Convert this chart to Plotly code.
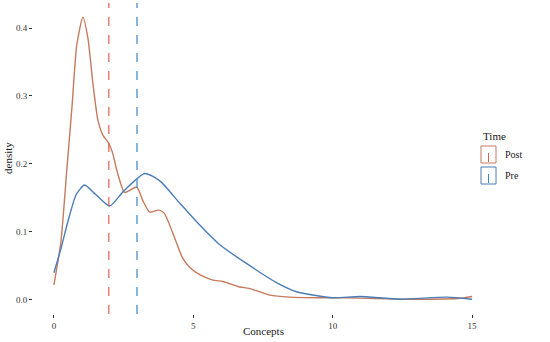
import plotly.graph_objects as go

# Density estimates
post_x = [0, 0.25, 0.47, 0.65, 0.82, 1.04, 1.22, 1.4, 1.58, 1.76, 1.94, 2.1, 2.26, 2.54, 2.97, 3.2, 3.44, 3.75, 3.95, 4.34, 4.6, 4.87, 5.23, 5.7, 6.06, 6.67, 7.0, 7.74, 8.46, 9.5, 10.5, 11.5, 12.5, 13.5, 14.5, 15]
post_y = [0.022, 0.085, 0.195, 0.285, 0.375, 0.416, 0.385, 0.318, 0.264, 0.242, 0.232, 0.217, 0.19, 0.158, 0.166, 0.145, 0.129, 0.132, 0.128, 0.09, 0.063, 0.048, 0.037, 0.029, 0.027, 0.019, 0.017, 0.007, 0.004, 0.003, 0.003, 0.002, 0.001, 0.001, 0.002, 0.005]

pre_x = [0, 0.25, 0.5, 0.8, 1.1, 1.5, 2.0, 2.5, 3.26, 3.8, 4.5, 5.23, 5.95, 7.0, 8.0, 8.7, 10.0, 10.97, 12.4, 14.1, 15]
pre_y = [0.04, 0.075, 0.115, 0.155, 0.169, 0.155, 0.138, 0.16, 0.186, 0.175, 0.143, 0.11, 0.081, 0.051, 0.025, 0.012, 0.003, 0.005, 0.001, 0.004, 0.001]

means = {"Post": 1.97, "Pre": 2.98}
series_names = ["Post", "Pre"]
line_colors = {"Post": "#C57A5E", "Pre": "#4A7DB8"}
vline_colors = {"Post": "#E0604F", "Pre": "#3A88C6"}

x_ticks = [0, 5, 10, 15]
y_ticks = [0.0, 0.1, 0.2, 0.3, 0.4]
y_tick_labels = ["0.0", "0.1", "0.2", "0.3", "0.4"]

FONT = "Liberation Serif"

L, R, T, B = 33, 493, 3, 314
W, H = 550, 342


def px(x):
    return (x - L) / (R - L)


def py(y):
    return (B - y) / (B - T)


fig = go.Figure()
fig.add_trace(go.Scatter(x=post_x, y=post_y, mode="lines", name="Post",
                         line=dict(color=line_colors["Post"], width=1.4, shape="spline", smoothing=0.6),
                         showlegend=False))
fig.add_trace(go.Scatter(x=pre_x, y=pre_y, mode="lines", name="Pre",
                         line=dict(color=line_colors["Pre"], width=1.4, shape="spline", smoothing=0.6),
                         showlegend=False))

for name in series_names:
    fig.add_shape(type="line", xref="x", yref="paper", x0=means[name], x1=means[name], y0=0, y1=1,
                  line=dict(color=vline_colors[name], width=1.2, dash="dash"))

# Manual legend (ggplot-style keys)
key_x0, key_x1 = 481, 496
for i, name in enumerate(series_names):
    top = 146 + i * 21
    bot = top + 17
    fig.add_shape(type="rect", xref="paper", yref="paper",
                  x0=px(key_x0), x1=px(key_x1), y0=py(bot), y1=py(top),
                  line=dict(color=line_colors[name], width=1), fillcolor="white")
    fig.add_shape(type="line", xref="paper", yref="paper",
                  x0=px((key_x0 + key_x1) / 2), x1=px((key_x0 + key_x1) / 2), y0=py(bot - 1), y1=py(top + 1),
                  line=dict(color=vline_colors[name], width=1, dash="dash"))
    fig.add_annotation(xref="paper", yref="paper", x=px(503), y=py((top + bot) / 2),
                       text=name, showarrow=False, xanchor="left", yanchor="middle",
                       font=dict(family=FONT, size=10, color="#1a1a1a"))
fig.add_annotation(xref="paper", yref="paper", x=px(481), y=py(136),
                   text="Time", showarrow=False, xanchor="left", yanchor="middle",
                   font=dict(family=FONT, size=11, color="#1a1a1a"))

# Axis titles
fig.add_annotation(xref="paper", yref="paper", x=px(263), y=py(331),
                   text="Concepts", showarrow=False, xanchor="center", yanchor="middle",
                   font=dict(family=FONT, size=11, color="#1a1a1a"))
fig.add_annotation(xref="paper", yref="paper", x=px(8), y=py(158),
                   text="density", showarrow=False, xanchor="center", yanchor="middle", textangle=-90,
                   font=dict(family=FONT, size=11, color="#1a1a1a"))

fig.update_layout(
    width=W, height=H,
    margin=dict(l=L, r=W - R, t=T, b=H - B, autoexpand=False),
    plot_bgcolor="white", paper_bgcolor="white",
    font=dict(family=FONT, size=10, color="#4D4D4D"),
    showlegend=False,
)
fig.update_xaxes(range=[-0.75, 15.75], tickvals=x_ticks, ticks="outside", ticklen=3, tickcolor="#333333",
                 showgrid=False, zeroline=False, showline=False, automargin=False,
                 tickfont=dict(family=FONT, size=9, color="#333333"))
fig.update_yaxes(range=[-0.0208, 0.4368], tickvals=y_ticks, ticktext=y_tick_labels, ticks="outside", ticklen=3,
                 tickcolor="#333333", showgrid=False, zeroline=False, showline=False, automargin=False,
                 tickfont=dict(family=FONT, size=9, color="#333333"))

fig.write_html("out.html", config={"displayModeBar": False},
               post_script="document.body.style.margin='0';document.body.style.overflow='hidden';")
